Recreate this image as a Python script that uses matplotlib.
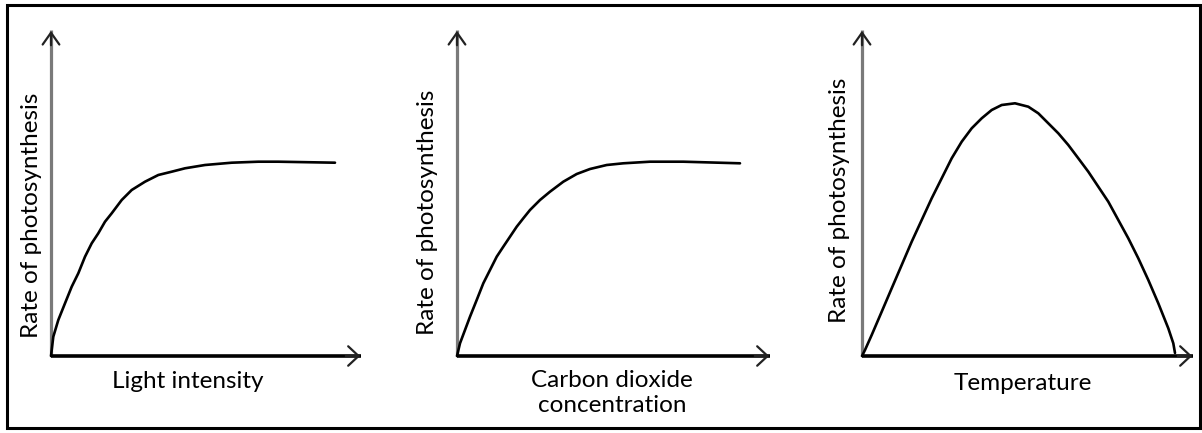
import matplotlib
matplotlib.use("Agg")
import matplotlib.pyplot as plt
from matplotlib.patches import Rectangle

plt.rcParams['font.family'] = ['Lato', 'DejaVu Sans']

W, H = 1202, 433

# curves, arbitrary units (x: factor, y: rate)
light_x = [0, 2.3, 7.3, 14, 20.7, 27.3, 34, 40.7, 47.3, 54, 60.7, 70.7, 80.7, 94,
           107.3, 120.7, 134, 154, 180.7, 207.3, 227.3, 284]
light_y = [0, 19.3, 36, 52.7, 69.3, 82.7, 99.3, 112.7, 122.7, 134.3, 142.7, 156, 166,
           174.3, 181, 184.3, 187.7, 191, 193.3, 194.3, 194.3, 193.3]

co2_x = [0, 3, 8, 13, 19.7, 26.3, 33, 39.7, 46.3, 53, 59.7, 66.3, 73, 83, 93, 106.3,
         119.7, 133, 149.7, 166.3, 193, 226.3, 283]
co2_y = [0, 12.7, 26, 39.3, 56, 72.7, 86, 99.3, 109.3, 119.3, 129.3, 137.7, 146, 156,
         164.3, 174.3, 182, 187, 191, 192.7, 194.3, 194.3, 192.7]

temp_x = [0, 3, 9.7, 19.7, 29.7, 39.7, 49.7, 59.7, 69.7, 79.7, 89.7, 99.7, 109.7, 119.7,
          129.7, 139.7, 153, 166.3, 176.3, 186.3, 196.3, 206.3, 216.3, 226.3, 236.3,
          246.3, 256.3, 266.3, 276.3, 286.3, 296.3, 306.3, 311.3, 313]
temp_y = [0, 6, 21, 44.3, 67.7, 91, 114.3, 136, 157.7, 177.7, 197.7, 214.3, 227.7, 237.7,
          246, 251, 252.7, 249.3, 242.7, 232.7, 222.7, 211, 197.7, 184.3, 169.3, 154.3,
          136, 117.7, 97.7, 76, 52.7, 27.7, 12.7, 3]

ylabel = "Rate of photosynthesis"
xlabels = ["Light intensity", "Carbon dioxide\nconcentration", "Temperature"]

# panel layout in pixels: origin x, origin y, x-axis length, y-axis length
panels = [(51, 356, 312, 328), (457, 356, 315, 328), (862, 356, 333, 328)]
ylab_pos = [(32, 215), (428, 212), (840, 200)]
xlab_pos = [(188, 381), (612, 393), (1023, 383)]
series = [(light_x, light_y), (co2_x, co2_y), (temp_x, temp_y)]

fig = plt.figure(figsize=(W / 100, H / 100), dpi=100)
fig.patch.set_facecolor("white")

for (ox, oy, lx, ly), (xs, ys), yl, xl, xlab in zip(panels, series, ylab_pos, xlab_pos, xlabels):
    ax = fig.add_axes([ox / W, (H - oy) / H, lx / W, ly / H])
    ax.set_xlim(0, lx); ax.set_ylim(0, ly)
    ax.axis("off")
    # axes: grey vertical, black horizontal, open arrow heads
    ax.plot([0, 0], [0, ly - 2], color="#7a7a7a", lw=2.3, clip_on=False, solid_capstyle="butt")
    ax.plot([0, lx - 2], [0, 0], color="black", lw=2.6, clip_on=False, solid_capstyle="butt")
    ax.annotate("", xy=(0, ly), xytext=(0, ly - 20),
                arrowprops=dict(arrowstyle="->,head_length=0.85,head_width=0.6", lw=1.6, color="#222222"))
    ax.annotate("", xy=(lx, 0), xytext=(lx - 20, 0),
                arrowprops=dict(arrowstyle="->,head_length=0.75,head_width=0.7", lw=1.6, color="#222222"))
    ax.plot(xs, ys, color="black", lw=1.9, clip_on=False, solid_capstyle="round")
    fig.text(yl[0] / W, 1 - yl[1] / H, ylabel, rotation=90, fontsize=17.5,
             ha="center", va="center", color="black")
    fig.text(xl[0] / W, 1 - xl[1] / H, xlab, fontsize=17.5, ha="center", va="center",
             linespacing=1.2, color="black")

fig.patches.append(Rectangle((7 / W, 1 - 428 / H), 1193 / W, 423 / H, transform=fig.transFigure,
                             fill=False, lw=2.2, edgecolor="black"))

fig.savefig("out.png", dpi=100, facecolor="white")
